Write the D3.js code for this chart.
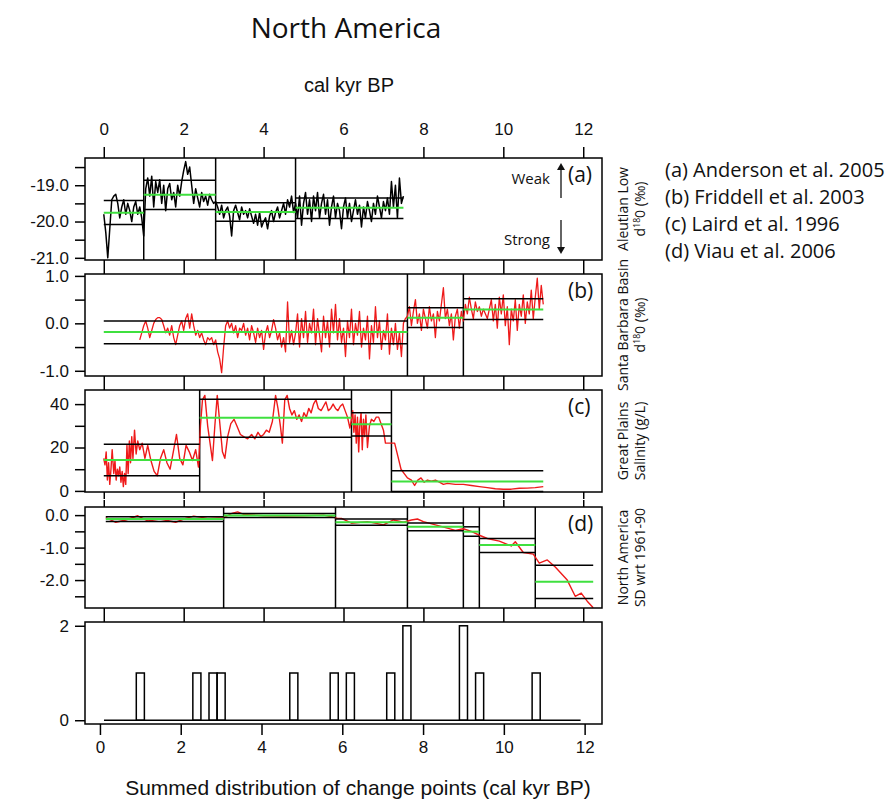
<!DOCTYPE html>
<html>
<head>
<meta charset="utf-8">
<script src="https://d3js.org/d3.v7.min.js"></script>
<style>
  body { margin: 0; background: #fff; }
</style>
</head>
<body>
<svg id="chart" width="896" height="801"></svg>
<script>
// ---- data ----
const ageTicks = [0, 2, 4, 6, 8, 10, 12];

// (a) Aleutian Low d18O, sampled every 0.05 kyr from 0
const aleutianStart = 0, aleutianStep = 0.05;
const aleutianValues = [
  -19.8, -20.3, -21.0, -20.2, -19.4, -19.3, -19.25, -19.5, -19.9, -19.6, -19.4, -19.8, -19.5, -19.7, -20.0, -19.6, -19.45, -19.8, -19.6, -19.9, -20.4,
  -19.1, -18.8, -19.3, -18.75, -19.6, -18.9, -19.2, -18.85, -19.5, -19.0, -19.7, -19.1, -18.95, -19.4, -19.2, -19.6, -19.0, -19.3, -18.9, -18.6,
  -18.35, -18.7, -18.5, -19.0, -19.5, -19.1, -19.35, -19.6, -19.2, -19.45, -19.3, -19.55, -19.25, -19.4, -19.5, -19.45,
  -19.6, -19.8, -19.55, -19.9, -19.7, -19.6, -19.85, -20.4, -19.7, -19.55, -19.75, -19.95, -19.6, -19.8, -19.7, -19.9, -19.65, -19.85, -20.05, -19.8,
  -20.1, -19.75, -20.15, -20.0, -19.9, -20.2, -19.85, -19.7, -20.0, -19.75, -19.6, -19.9, -19.7, -19.5, -19.8, -19.4, -19.6, -19.3, -19.75, -19.5,
  -19.9, -19.3, -20.1, -19.5, -19.2, -19.8, -19.4, -20.0, -19.3, -19.7, -19.2, -19.9, -19.5, -19.25, -19.8, -19.4, -20.1, -19.6, -19.3, -19.9,
  -19.5, -19.7, -20.2, -19.6, -19.35, -19.9, -19.5, -20.0, -19.7, -19.4, -19.8, -19.55, -20.15, -19.6, -19.9, -19.45, -19.7, -20.0, -19.5, -19.8,
  -19.3, -19.6, -19.9, -19.45, -19.7, -19.35, -19.8, -18.9, -19.6, -19.0, -19.9, -18.8, -19.5, -19.3
];
const aleutianBreaks = [0, 1.0, 2.8, 4.8, 7.5];
const aleutianMeans = [-19.76, -19.26, -19.74, -19.62];
const aleutianUpper = [-19.42, -18.86, -19.48, -19.35];
const aleutianLower = [-20.08, -19.67, -19.99, -19.92];

// (b) Santa Barbara Basin d18O, sampled every 0.05 kyr from 0.9
const sbbStart = 0.9, sbbStep = 0.05;
const sbbValues = [
  -0.35, -0.2, -0.05, 0.05, -0.1, -0.3, -0.15, 0.0, 0.08, 0.12, 0.12, 0.08, -0.05, -0.2, -0.1, -0.25, -0.05, -0.3, -0.45, -0.25,
  -0.05, 0.05, -0.15, 0.1, 0.2, -0.1, 0.2, -0.05, -0.25, -0.15, -0.3, -0.2, -0.35, -0.45, -0.3, -0.35, -0.3, -0.45, -0.35, -0.6,
  -0.75, -1.04, -0.5,
  -0.05, 0.05, -0.1, 0.0, -0.2, -0.05, -0.3, -0.1, -0.15, 0.0, -0.25, -0.1, -0.35, -0.05, -0.2, -0.4, -0.1, -0.3, -0.15, -0.55,
  -0.2, -0.05, -0.3, -0.15, 0.08, -0.1, -0.35, -0.2, -0.5, -0.3, -0.6, 0.45, -0.4, -0.15, -0.45, -0.2,
  0.2, -0.5, 0.1, -0.3, 0.25, -0.4, 0.0, -0.2, 0.3, -0.45, 0.1, -0.25, -0.6, 0.15, -0.3, 0.05, -0.5, 0.3, -0.2, 0.4,
  -0.35, 0.1, -0.4, -0.1, -0.7, 0.05, -0.3, 0.3, -0.45, 0.0, -0.25, 0.25, -0.5, -0.1, -0.35, 0.15, -0.75, -0.05, -0.4, 0.35,
  -0.3, 0.05, -0.55, -0.15, -0.35, 0.2, -0.65, -0.1, -0.45, 0.0, -0.55, -0.2, -0.7, 0.0, 0.1,
  0.15, 0.35, -0.05, 0.25, 0.5, 0.0, 0.2, -0.15, 0.3, 0.1, -0.1, 0.35, 0.05, 0.2, -0.3, 0.25, 0.05, 0.4, 0.75, 0.1,
  0.3, -0.05, 0.2, -0.35, 0.15, 0.3, -0.1, 0.25, 0.05,
  0.4, 0.2, 0.55, 0.3, 0.1, 0.45, 0.25, 0.35, 0.15, 0.3, 0.2, 0.1, 0.3, 0.5, 0.05, 0.4, -0.1, 0.55, 0.2, 0.6,
  -0.05, 0.35, -0.45, 0.3, 0.05, 0.5, -0.15, 0.4, 0.15, 0.6, 0.0, 0.45, 0.2, 0.7, 0.1, 0.55, 0.95, 0.3, 0.8, 0.4
];
const sbbBreaks = [0, 7.6, 9.0, 11.0];
const sbbMeans = [-0.18, 0.12, 0.29];
const sbbUpper = [0.05, 0.33, 0.52];
const sbbLower = [-0.43, -0.09, 0.08];

// (c) Great Plains salinity (g/L)
const salinityAges = [
  0.0, 0.03, 0.06, 0.09, 0.12, 0.15, 0.18, 0.21, 0.25, 0.28, 0.31, 0.34, 0.37, 0.4, 0.43, 0.46, 0.49, 0.52, 0.55, 0.58,
  0.61, 0.64, 0.67, 0.7, 0.73, 0.77, 0.81, 0.85, 0.9, 0.96, 1.03, 1.1, 1.18, 1.26, 1.34, 1.42, 1.5, 1.58, 1.66, 1.74,
  1.82, 1.9, 1.98, 2.06, 2.14, 2.22, 2.3, 2.37,
  2.42, 2.47, 2.53, 2.6, 2.66, 2.72, 2.78, 2.84, 2.9, 2.97, 3.03, 3.1, 3.18, 3.26, 3.33, 3.42, 3.5, 3.6, 3.7, 3.78,
  3.86, 3.93, 4.0, 4.07, 4.14, 4.22, 4.3, 4.36, 4.42, 4.47, 4.53, 4.59, 4.65, 4.71, 4.77, 4.83, 4.89, 4.95, 5.01, 5.07,
  5.13, 5.19, 5.25, 5.31, 5.37, 5.44, 5.5, 5.56, 5.62, 5.68, 5.74, 5.8, 5.86, 5.92, 5.98, 6.04, 6.1, 6.16,
  6.2, 6.23, 6.26, 6.29, 6.32, 6.35, 6.38, 6.41, 6.44, 6.47, 6.5, 6.53, 6.56, 6.6, 6.65, 6.7, 6.76, 6.82, 6.88, 6.94,
  7.0, 7.05, 7.12,
  7.2, 7.28, 7.36, 7.44, 7.52, 7.6, 7.7, 7.78, 7.86, 7.94, 8.02, 8.1, 8.2, 8.3, 8.4, 8.5, 8.6, 8.8, 9.0, 9.2,
  9.4, 9.6, 9.8, 10.0, 10.2, 10.4, 10.6, 10.8, 11.0
];
const salinityValues = [
  15, 12, 18, 5, 13, 3, 10, 19, 8, 14, 5, 10, 7, 11, 4, 9, 2, 8, 3, 21,
  8, 23, 13, 25, 15, 28, 17, 23, 19, 22, 15, 21, 14, 9, 7, 15, 19, 13, 10, 18,
  26, 15, 12, 21, 18, 14, 19, 11,
  30, 42, 44, 30, 22, 14, 30, 44, 32, 18, 15, 25, 31, 33, 30, 26, 25, 24, 26, 24,
  27, 25, 26, 28, 27, 32, 44, 38, 30, 22, 42, 44, 38, 35, 37, 33, 35, 32, 36, 34,
  38, 36, 40, 42, 38, 37, 39, 41, 37, 38, 40, 38, 37, 39, 40, 37, 34, 29,
  33, 37, 27, 35, 22, 34, 18, 31, 36, 19, 33, 25, 35, 20, 30, 33, 32, 34, 34, 31,
  28, 22, 22,
  22, 22, 16, 10, 8, 6, 5, 2.5, 5, 6, 4, 5, 4.5, 5, 4, 3, 3.5, 3, 3, 2.5,
  2, 1.5, 1, 0.8, 0.8, 1.2, 1.3, 1.5, 2
];
const salinityBreaks = [0, 2.4, 6.2, 7.2, 11.0];
const salinityMeans = [14.3, 33.7, 30.7, 4.3];
const salinityUpper = [21.5, 42.2, 36.0, 9.3];
const salinityLower = [7.0, 24.7, 25.3, -0.3];

// (d) North America temperature, SD wrt 1961-90
const naAges = [
  0.05, 0.3, 0.55, 0.85, 1.1, 1.4, 1.8, 2.05, 2.25, 2.6, 3.0, 3.2, 3.35, 3.5, 4.0, 4.5, 5.0, 5.5, 5.7, 5.85,
  5.95, 6.2, 6.6, 7.0, 7.25, 7.5, 7.7, 7.85, 8.0, 8.3, 8.6, 8.8, 9.0, 9.2, 9.4, 9.6, 9.9, 10.2, 10.3, 10.5,
  10.75, 10.9, 11.1, 11.3, 11.6, 11.8, 11.95, 12.1, 12.25
];
const naValues = [
  -0.08, -0.22, -0.15, -0.02, -0.18, -0.12, -0.22, -0.1, -0.03, -0.1, -0.08, 0.05, 0.1, 0.02, -0.02, -0.03, -0.02, 0.0, -0.05, -0.1,
  -0.1, -0.25, -0.2, -0.3, -0.15, -0.22, -0.15, -0.12, -0.2, -0.3, -0.4, -0.47, -0.42, -0.5, -0.62, -0.72, -0.8, -0.95, -0.82, -1.15,
  -1.2, -1.48, -1.38, -1.6, -2.0, -2.5, -2.4, -2.65, -2.85
];
const naBreaks = [0.05, 3.0, 5.8, 7.6, 9.0, 9.4, 10.8, 12.25];
const naMeans = [-0.12, -0.01, -0.22, -0.36, -0.51, -0.92, -2.05];
const naUpper = [-0.05, 0.05, -0.12, -0.24, -0.36, -0.72, -1.54];
const naLower = [-0.2, -0.07, -0.31, -0.48, -0.65, -1.15, -2.57];

// summed change points, 0.2 kyr bins
const histBinStart = [0.9, 2.3, 2.7, 2.9, 4.7, 5.7, 6.1, 7.1, 7.5, 8.9, 9.3, 10.7];
const histCounts = [1, 1, 1, 1, 1, 1, 1, 1, 2, 2, 1, 1];
const histBinWidth = 0.2;
const histSpan = [0.1, 11.9];

const sources = ["(a) Anderson et al. 2005", "(b) Friddell et al. 2003", "(c) Laird et al. 1996", "(d) Viau et al. 2006"];

// ---- drawing ----
const RED = "#ee1a1a", GREEN = "#3fe03f";
const numFont = "'Liberation Sans', Arial, sans-serif";
const txtFont = "'Open Sans', 'Noto Sans', sans-serif";

const svg = d3.select("#chart");
svg.append("rect").attr("width", 896).attr("height", 801).attr("fill", "#fff");

const x = d3.scaleLinear().domain([-0.47, 12.47]).range([85, 602]);
const xHist = d3.scaleLinear().domain([-0.37, 12.43]).range([85, 602]);

const regular = (start, step, vals) => vals.map((v, i) => [start + i * step, v]);
// R style labels use a plain hyphen for the minus sign
const oneDec = d => d3.format(".1f")(d).replace("\u2212", "-");

const d18O = [{t: "d"}, {t: "18", sup: true}, {t: "0 (\u2030)"}];

const panels = [
  {letter: "(a)", top: 158, bottom: 260, yDomain: [-21.06, -18.25],
   yTicks: [-21, -20.5, -20, -19.5, -19, -18.5], yLabels: [-21, -20, -19], fmt: oneDec,
   points: regular(aleutianStart, aleutianStep, aleutianValues), color: "#000", width: 1.5,
   breaks: aleutianBreaks, means: aleutianMeans, upper: aleutianUpper, lower: aleutianLower,
   title: [[{t: "Aleutian Low"}], d18O]},
  {letter: "(b)", top: 274, bottom: 376, yDomain: [-1.11, 1.04],
   yTicks: [-1, -0.5, 0, 0.5, 1], yLabels: [-1, 0, 1], fmt: oneDec,
   points: regular(sbbStart, sbbStep, sbbValues), color: RED, width: 1.3,
   breaks: sbbBreaks, means: sbbMeans, upper: sbbUpper, lower: sbbLower,
   title: [[{t: "Santa Barbara Basin"}], d18O]},
  {letter: "(c)", top: 390, bottom: 492, yDomain: [-0.5, 46.5],
   yTicks: [0, 10, 20, 30, 40], yLabels: [0, 20, 40], fmt: d3.format("d"),
   points: d3.zip(salinityAges, salinityValues), color: RED, width: 1.4,
   breaks: salinityBreaks, means: salinityMeans, upper: salinityUpper, lower: salinityLower,
   title: [[{t: "Great Plains"}], [{t: "Salinity (g/L)"}]]},
  {letter: "(d)", top: 507, bottom: 608, yDomain: [-2.86, 0.25],
   yTicks: [-2.5, -2, -1.5, -1, -0.5, 0], yLabels: [-2, -1, 0], fmt: oneDec,
   points: d3.zip(naAges, naValues), color: RED, width: 1.4,
   breaks: naBreaks, means: naMeans, upper: naUpper, lower: naLower,
   title: [[{t: "North America"}], [{t: "SD wrt 1961-90"}]]}
];

function styleAxis(g) {
  g.select(".domain").remove();
  g.selectAll(".tick line").attr("stroke", "#000").attr("stroke-width", 1.5);
  g.selectAll(".tick text").attr("fill", "#111").attr("font-family", numFont).attr("font-size", 17);
}

function writeLine(sel, parts, size) {
  parts.forEach(p => {
    const ts = sel.append("tspan").text(p.t);
    if (p.sup) ts.attr("font-size", size * 0.62).attr("dy", -size * 0.38);
    else if (sel.selectAll("tspan").size() > 1) ts.attr("dy", size * 0.38);
  });
}

panels.forEach((p, i) => {
  const y = d3.scaleLinear().domain(p.yDomain).range([p.bottom, p.top]);
  const g = svg.append("g");
  const nSeg = p.breaks.length - 1;
  const segs = d3.range(nSeg).map(k => ({x0: p.breaks[k], x1: p.breaks[k + 1],
    mean: p.means[k], up: p.upper[k], lo: p.lower[k]}));

  // change point separators
  g.selectAll(".cp").data(p.breaks.slice(1, -1)).join("line")
    .attr("x1", d => x(d)).attr("x2", d => x(d))
    .attr("y1", p.top).attr("y2", p.bottom)
    .attr("stroke", "#000").attr("stroke-width", 1.5);

  // record
  g.append("path").datum(p.points)
    .attr("d", d3.line().x(d => x(d[0])).y(d => y(d[1])))
    .attr("fill", "none").attr("stroke", p.color)
    .attr("stroke-width", p.width).attr("stroke-linejoin", "round");

  // segment bounds
  ["up", "lo"].forEach(key => {
    g.selectAll(".b" + key).data(segs).join("line")
      .attr("x1", d => x(d.x0)).attr("x2", d => x(d.x1))
      .attr("y1", d => y(d[key])).attr("y2", d => y(d[key]))
      .attr("stroke", "#000").attr("stroke-width", 1.5);
  });
  // segment means
  g.selectAll(".mean").data(segs).join("line")
    .attr("x1", d => x(d.x0)).attr("x2", d => x(d.x1))
    .attr("y1", d => y(d.mean)).attr("y2", d => y(d.mean))
    .attr("stroke", GREEN).attr("stroke-width", 2);

  // frame
  g.append("rect").attr("x", 85).attr("y", p.top)
    .attr("width", 517).attr("height", p.bottom - p.top)
    .attr("fill", "none").attr("stroke", "#000").attr("stroke-width", 1.5);

  // y axis
  g.append("g").attr("transform", "translate(85,0)")
    .call(d3.axisLeft(y).tickValues(p.yTicks).tickSize(10).tickPadding(6)
      .tickFormat(d => p.yLabels.includes(d) ? p.fmt(d) : ""))
    .call(styleAxis);

  // x ticks top and bottom
  g.append("g").attr("transform", `translate(0,${p.top})`)
    .call(d3.axisTop(x).tickValues(ageTicks).tickSize(i === 0 ? 11 : 7).tickPadding(12)
      .tickFormat(i === 0 ? d3.format("d") : () => ""))
    .call(styleAxis);
  g.append("g").attr("transform", `translate(0,${p.bottom})`)
    .call(d3.axisBottom(x).tickValues(ageTicks).tickSize(i === 3 ? 14 : 7).tickFormat(() => ""))
    .call(styleAxis);

  // panel letter
  g.append("text").attr("x", 568).attr("y", p.top + 24)
    .attr("font-family", txtFont).attr("font-size", 21).attr("fill", "#111")
    .text(p.letter);

  // right hand rotated titles
  const cy = (p.top + p.bottom) / 2;
  p.title.forEach((line, j) => {
    const t = g.append("text")
      .attr("transform", `translate(${628 + j * 17},${cy}) rotate(-90)`)
      .attr("text-anchor", "middle")
      .attr("font-family", txtFont).attr("font-size", 14).attr("fill", "#111");
    writeLine(t, line, 14);
  });
});

// weak / strong annotation in (a)
const ann = svg.append("g").attr("font-family", txtFont).attr("font-size", 15).attr("fill", "#111");
ann.append("text").attr("x", 550).attr("y", 184).attr("text-anchor", "end").text("Weak");
ann.append("text").attr("x", 550).attr("y", 245).attr("text-anchor", "end").text("Strong");
ann.append("line").attr("x1", 561).attr("x2", 561).attr("y1", 198).attr("y2", 167)
  .attr("stroke", "#111").attr("stroke-width", 1.3);
ann.append("path").attr("d", "M557,170 L561,163 L565,170 Z").attr("fill", "#111");
ann.append("line").attr("x1", 561).attr("x2", 561).attr("y1", 220).attr("y2", 250)
  .attr("stroke", "#111").attr("stroke-width", 1.3);
ann.append("path").attr("d", "M557,247 L561,254 L565,247 Z").attr("fill", "#111");

// histogram of change points
const yHist = d3.scaleLinear().domain([-0.08, 2.08]).range([724, 622]);
const hg = svg.append("g");
hg.append("line")
  .attr("x1", xHist(histSpan[0])).attr("x2", xHist(histSpan[1]))
  .attr("y1", yHist(0)).attr("y2", yHist(0))
  .attr("stroke", "#000").attr("stroke-width", 1.5);
hg.selectAll(".bar").data(d3.zip(histBinStart, histCounts)).join("rect")
  .attr("x", d => xHist(d[0])).attr("width", d => xHist(d[0] + histBinWidth) - xHist(d[0]))
  .attr("y", d => yHist(d[1])).attr("height", d => yHist(0) - yHist(d[1]))
  .attr("fill", "none").attr("stroke", "#000").attr("stroke-width", 1.5);
hg.append("rect").attr("x", 85).attr("y", 622).attr("width", 517).attr("height", 102)
  .attr("fill", "none").attr("stroke", "#000").attr("stroke-width", 1.5);
hg.append("g").attr("transform", "translate(85,0)")
  .call(d3.axisLeft(yHist).tickValues([0, 2]).tickSize(10).tickPadding(6).tickFormat(d3.format("d")))
  .call(styleAxis);
hg.append("g").attr("transform", "translate(0,724)")
  .call(d3.axisBottom(xHist).tickValues(ageTicks).tickSize(11).tickPadding(6).tickFormat(d3.format("d")))
  .call(styleAxis);

// titles
svg.append("text").attr("x", 346).attr("y", 38).attr("text-anchor", "middle")
  .attr("font-family", txtFont).attr("font-size", 28).attr("fill", "#111").text("North America");
svg.append("text").attr("x", 349).attr("y", 92).attr("text-anchor", "middle")
  .attr("font-family", numFont).attr("font-size", 20).attr("fill", "#111").text("cal kyr BP");
svg.append("text").attr("x", 358).attr("y", 795).attr("text-anchor", "middle")
  .attr("font-family", numFont).attr("font-size", 21).attr("fill", "#111")
  .text("Summed distribution of change points (cal kyr BP)");

// legend of sources
svg.append("g").selectAll("text").data(sources).join("text")
  .attr("x", 665).attr("y", (d, i) => 177 + i * 27)
  .attr("font-family", txtFont).attr("font-size", 20).attr("fill", "#111")
  .text(d => d);
</script>
</body>
</html>
